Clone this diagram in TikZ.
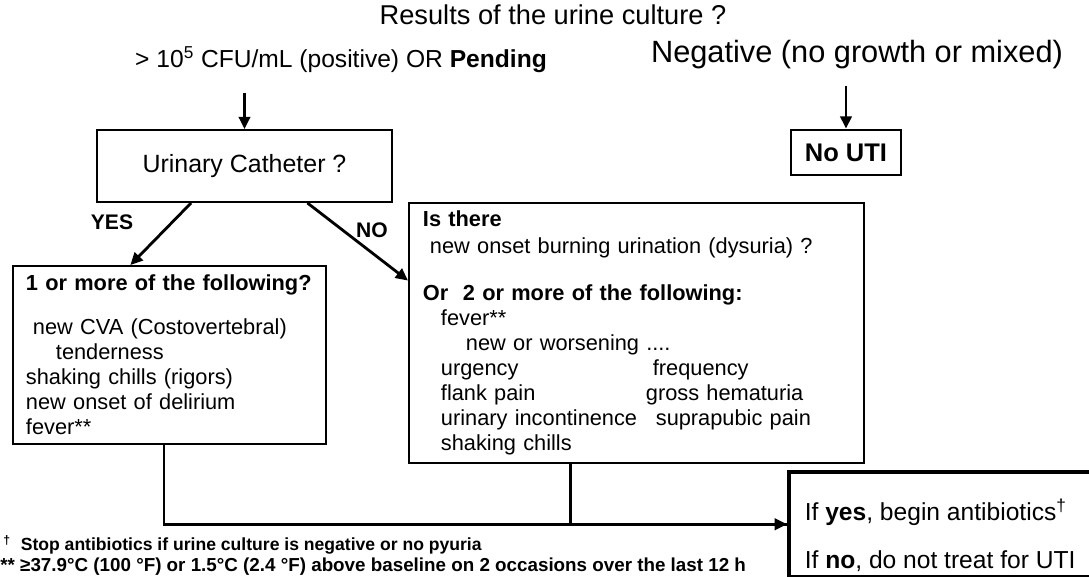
\documentclass[tikz,border=0pt]{standalone}
\usepackage{fontspec}
\setmainfont{Liberation Sans}
\usetikzlibrary{arrows.meta,calc,positioning}
\tikzset{box/.style={rectangle,draw,line width=1.1pt,inner sep=0pt,fill=white}}
\tikzset{heavy/.style={box,line width=1.6pt}}
\tikzset{list/.style={box,anchor=north west,align=left,inner ysep=0pt,font=\fontsize{12.4}{14.2}\selectfont}}
\tikzset{flow/.style={draw,line width=1.6pt,-{Triangle[length=7pt,width=6.5pt]}}}
\tikzset{lbl/.style={inner sep=0pt,font=\fontsize{15.5}{18}\selectfont}}
\tikzset{yn/.style={inner sep=0pt,font=\bfseries\fontsize{12}{14}\selectfont}}
\tikzset{note/.style={inner sep=0pt,anchor=west,font=\bfseries\fontsize{10}{12}\selectfont}}

\begin{document}
\begin{tikzpicture}[x=0.02cm,y=-0.02cm]
    \useasboundingbox (0,0) rectangle (1089,576);

    \node[lbl] (res) at (553,15) {Results of the urine culture ?};
    \node[lbl,font=\fontsize{14}{17}\selectfont] (pos) at (341,60) {> 10\textsuperscript{5} CFU/mL (positive) OR \textbf{Pending}};
    \node[lbl,font=\fontsize{17.5}{20}\selectfont] (neg) at (857,55) {Negative (no growth or mixed)};

    \node[box,minimum width=5.9cm,minimum height=1.44cm,font=\fontsize{14.2}{17}\selectfont] (cath) at (244.5,166) {Urinary Catheter ?};
    \node[heavy,minimum width=2.2cm,minimum height=0.9cm,font=\bfseries\fontsize{14.5}{17}\selectfont] (nouti) at (846,152.5) {No UTI};

    \node[yn] (yes) at (112,222) {YES};
    \node[yn] (no) at (372,230) {NO};

    \node[list,inner xsep=0.26cm,text width=5.74cm,minimum height=3.56cm] (lbox) at (12,265) {%
        \textbf{1 or more of the following?}\\[11pt]
        \hspace*{0.14cm}new CVA (Costovertebral)\\
        \hspace*{0.6cm}tenderness\\
        shaking chills (rigors)\\
        new onset of delirium\\
        fever**};

    \node[list,inner xsep=0.28cm,text width=8.54cm,minimum height=5.2cm] (rbox) at (408,202) {%
        \textbf{Is there}\\[1pt]
        \hspace*{0.14cm}new onset burning urination (dysuria) ?\\[13pt]
        \textbf{Or\ \ 2 or more of the following:}\\
        \hspace*{0.36cm}fever**\\
        \hspace*{0.86cm}new or worsening ....\\
        \hspace*{0.36cm}\makebox[4.24cm][l]{urgency}frequency\\
        \hspace*{0.36cm}\makebox[4.1cm][l]{flank pain}gross hematuria\\
        \hspace*{0.36cm}\makebox[4.3cm][l]{urinary incontinence}suprapubic pain\\
        \hspace*{0.36cm}shaking chills};

    \node[heavy,line width=2pt,anchor=north west,minimum width=5.96cm,minimum height=2.1cm,align=left,inner xsep=0.32cm,font=\fontsize{14}{17}\selectfont] (treat) at (787,470) {%
        \rule{0pt}{25pt}If \textbf{yes}, begin antibiotics\textsuperscript{†}\\[10pt]
        If \textbf{no}, do not treat for UTI};

    \node[note] (stop) at (3,545) {\textsuperscript{†}\ \ Stop antibiotics if urine culture is negative or no pyuria};
    \node[note,font=\bfseries\fontsize{10.7}{12}\selectfont] (temp) at (0,566.5) {** ≥37.9°C (100 °F) or 1.5°C (2.4 °F) above baseline on 2 occasions over the last 12 h};

    \draw[flow] (pos.south -| cath.north) ++(0,20) -- (cath.north);
    \draw[flow] (neg.south -| nouti.north) ++(0,16) -- (nouti.north);
    \draw[flow] ($(cath.south west)!0.32!(cath.south east)$) -- ($(lbox.north west)!0.376!(lbox.north east)$);
    \draw[flow] ($(cath.south west)!0.712!(cath.south east)$) -- ($(rbox.north west)!0.3!(rbox.south west)$);
    \draw[line width=1.6pt] ($(rbox.south west)!0.356!(rbox.south east)$) |- (treat.west);
    \draw[flow] ($(lbox.south west)!0.483!(lbox.south east)$) |- (treat.west);
\end{tikzpicture}
\end{document}
